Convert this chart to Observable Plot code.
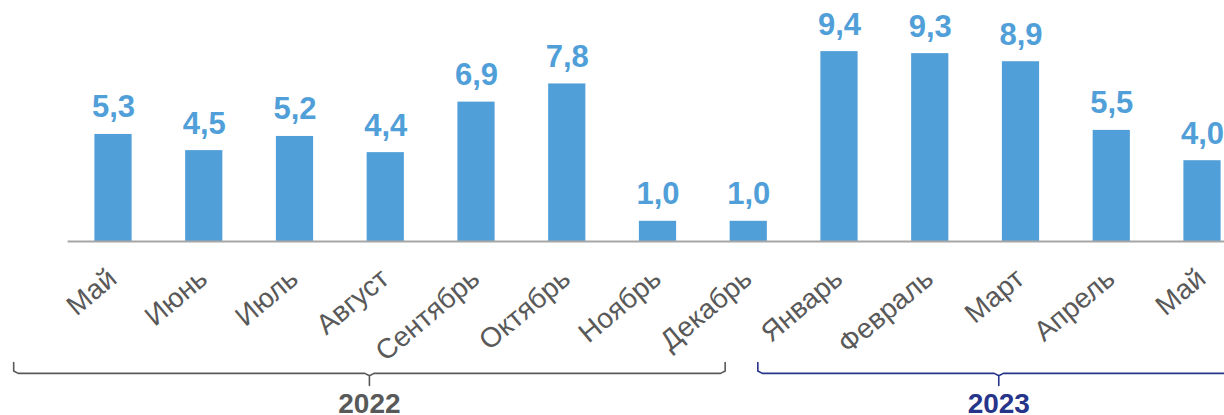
<!DOCTYPE html>
<html>
<head>
<meta charset="utf-8">
<script src="https://cdn.jsdelivr.net/npm/d3@7"></script>
<script src="https://cdn.jsdelivr.net/npm/@observablehq/plot@0.6"></script>
<style>
  html, body { margin: 0; padding: 0; background: #fff; }
  #chart svg { display: block; }
</style>
</head>
<body>
<div id="chart"></div>
<script>
const months = ["Май","Июнь","Июль","Август","Сентябрь","Октябрь","Ноябрь","Декабрь","Январь","Февраль","Март","Апрель","Май"];
const values = [5.3, 4.5, 5.2, 4.4, 6.9, 7.8, 1.0, 1.0, 9.4, 9.3, 8.9, 5.5, 4.0];
const years = ["2022", "2023"];
const yearFrom = [-1.1, 7.1];
const yearTo = [6.74, 12.41];
const yearColors = ["#595959", "#26348a"];

const data = months.map((m, i) => ({i, m, v: values[i]}));

// brace shapes (in data space)
const yTop = -5.99, yH = -6.53, yTip = -7.13, rx = 0.05, ry = 0.12;
const braces = [];
years.forEach((yr, k) => {
  const a = yearFrom[k], b = yearTo[k], c = (a + b) / 2;
  const pts = [
    [a, yTop], [a, yH + ry], [a + rx, yH], [c - rx, yH], [c, yH - ry], [c, yTip],
    [c, yH - ry], [c + rx, yH], [b - rx, yH], [b, yH + ry], [b, yTop]
  ];
  pts.forEach(([x, y]) => braces.push({year: yr, x, y, color: yearColors[k]}));
});
const yearLabels = years.map((yr, k) => ({year: yr, x: (yearFrom[k] + yearTo[k]) / 2, color: yearColors[k]}));

const fmt = v => d3.format(".1f")(v).replace(".", ",");
const font = "'Liberation Sans', Arial, sans-serif";

const chart = Plot.plot({
  width: 1224,
  height: 415,
  marginLeft: 0, marginRight: 0, marginTop: 0, marginBottom: 0,
  style: {fontFamily: font, background: "#fff"},
  x: {type: "linear", domain: [0, 12], range: [113, 1202], axis: null},
  y: {domain: [0, 10], range: [241, 39], axis: null},
  marks: [
    Plot.rectY(data, {x1: d => d.i - 0.205, x2: d => d.i + 0.205, y1: 0, y2: "v", fill: "#519fd8"}),
    Plot.ruleY([0], {x1: -0.5, x2: 12.5, stroke: "#a6a6a6", strokeWidth: 2}),
    Plot.text(data, {x: "i", y: "v", text: d => fmt(d.v), dy: -17, lineAnchor: "bottom",
      fill: "#519fd8", fontSize: 31, fontWeight: "bold"}),
    Plot.text(data, {x: "i", y: 0, text: "m", rotate: -40, textAnchor: "end", lineAnchor: "bottom",
      dx: 5, dy: 40, fill: "#595959", fontSize: 28}),
    Plot.line(braces, {x: "x", y: "y", z: "year", stroke: "color", strokeWidth: 1.6, curve: "linear"}),
    Plot.text(yearLabels, {x: "x", y: -8.51, text: "year", fill: "color", fontSize: 28, fontWeight: "bold",
      lineAnchor: "bottom"})
  ]
});
document.getElementById("chart").appendChild(chart);
</script>
</body>
</html>
